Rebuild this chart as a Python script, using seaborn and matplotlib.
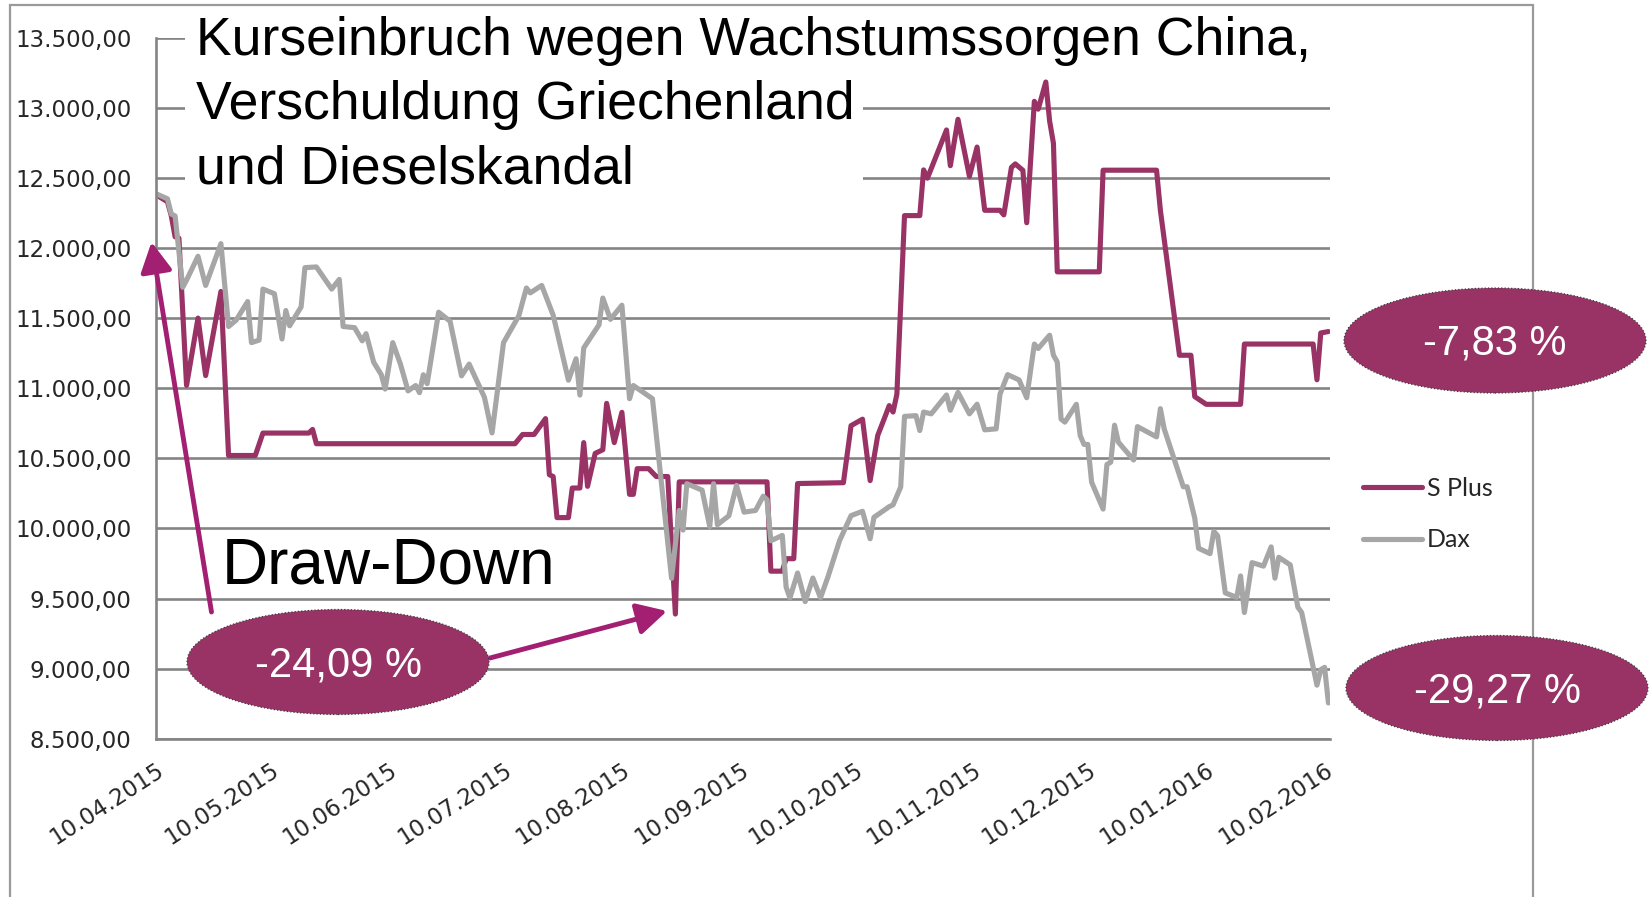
import matplotlib.pyplot as plt
import matplotlib.dates as mdates
from matplotlib.patches import Ellipse, Rectangle
from matplotlib.ticker import FuncFormatter, MultipleLocator
import pandas as pd
import seaborn as sns

# --------------------------------------------------
# data
splus_dates = [
    '2015-04-10', '2015-04-13', '2015-04-14', '2015-04-15', '2015-04-16',
    '2015-04-18', '2015-04-21', '2015-04-23', '2015-04-27', '2015-04-29',
    '2015-05-06', '2015-05-08', '2015-05-20', '2015-05-21', '2015-05-22',
    '2015-07-13', '2015-07-15', '2015-07-18', '2015-07-21', '2015-07-22',
    '2015-07-23', '2015-07-24', '2015-07-27', '2015-07-28', '2015-07-30',
    '2015-07-31', '2015-08-01', '2015-08-03', '2015-08-05', '2015-08-06',
    '2015-08-08', '2015-08-10', '2015-08-12', '2015-08-13', '2015-08-14',
    '2015-08-17', '2015-08-19', '2015-08-22', '2015-08-24', '2015-08-25',
    '2015-09-17', '2015-09-18', '2015-09-21', '2015-09-22', '2015-09-24',
    '2015-09-25', '2015-10-07', '2015-10-09', '2015-10-12', '2015-10-14',
    '2015-10-16', '2015-10-18', '2015-10-19', '2015-10-20', '2015-10-21',
    '2015-10-23', '2015-10-27', '2015-10-28', '2015-10-29', '2015-11-03',
    '2015-11-04', '2015-11-06', '2015-11-09', '2015-11-11', '2015-11-13',
    '2015-11-17', '2015-11-18', '2015-11-20', '2015-11-21', '2015-11-23',
    '2015-11-24', '2015-11-26', '2015-11-27', '2015-11-29', '2015-11-30',
    '2015-12-01', '2015-12-02', '2015-12-13', '2015-12-14', '2015-12-28',
    '2015-12-29', '2016-01-03', '2016-01-06', '2016-01-07', '2016-01-10',
    '2016-01-19', '2016-01-20', '2016-02-07', '2016-02-08', '2016-02-09',
    '2016-02-11']
splus_values = [
    12380, 12330, 12230, 12080, 12070,
    11020, 11500, 11090, 11690, 10520,
    10520, 10680, 10680, 10706, 10604,
    10604, 10670, 10670, 10783, 10383,
    10370, 10077, 10077, 10288, 10288,
    10612, 10300, 10535, 10561, 10892,
    10612, 10828, 10243, 10243, 10426,
    10426, 10370, 10370, 9389, 10332,
    10332, 9695, 9695, 9784, 9784,
    10320, 10326, 10733, 10779, 10341,
    10664, 10804, 10876, 10830, 10957,
    12231, 12231, 12557, 12498, 12842,
    12587, 12918, 12511, 12720, 12269,
    12269, 12236, 12575, 12600, 12554,
    12180, 13046, 12990, 13184, 12905,
    12746, 11830, 11830, 12555, 12555,
    12269, 11235, 11235, 10940, 10885,
    10885, 11315, 11315, 11060, 11394,
    11404]

dax_dates = [
    '2015-04-10', '2015-04-13', '2015-04-14', '2015-04-15', '2015-04-16',
    '2015-04-17', '2015-04-18', '2015-04-21', '2015-04-23', '2015-04-27',
    '2015-04-29', '2015-05-01', '2015-05-04', '2015-05-05', '2015-05-07',
    '2015-05-08', '2015-05-11', '2015-05-13', '2015-05-14', '2015-05-15',
    '2015-05-18', '2015-05-19', '2015-05-22', '2015-05-26', '2015-05-28',
    '2015-05-29', '2015-06-01', '2015-06-03', '2015-06-04', '2015-06-06',
    '2015-06-08', '2015-06-09', '2015-06-11', '2015-06-13', '2015-06-15',
    '2015-06-17', '2015-06-18', '2015-06-19', '2015-06-20', '2015-06-23',
    '2015-06-26', '2015-06-29', '2015-07-01', '2015-07-05', '2015-07-07',
    '2015-07-10', '2015-07-14', '2015-07-16', '2015-07-17', '2015-07-20',
    '2015-07-23', '2015-07-27', '2015-07-29', '2015-07-30', '2015-07-31',
    '2015-08-04', '2015-08-05', '2015-08-07', '2015-08-10', '2015-08-12',
    '2015-08-13', '2015-08-18', '2015-08-23', '2015-08-25', '2015-08-26',
    '2015-08-27', '2015-08-31', '2015-09-02', '2015-09-03', '2015-09-04',
    '2015-09-07', '2015-09-09', '2015-09-11', '2015-09-14', '2015-09-16',
    '2015-09-17', '2015-09-18', '2015-09-21', '2015-09-22', '2015-09-23',
    '2015-09-25', '2015-09-27', '2015-09-29', '2015-10-01', '2015-10-03',
    '2015-10-06', '2015-10-09', '2015-10-12', '2015-10-14', '2015-10-15',
    '2015-10-19', '2015-10-20', '2015-10-22', '2015-10-23', '2015-10-26',
    '2015-10-27', '2015-10-28', '2015-10-30', '2015-11-03', '2015-11-04',
    '2015-11-06', '2015-11-09', '2015-11-11', '2015-11-13', '2015-11-16',
    '2015-11-17', '2015-11-19', '2015-11-22', '2015-11-24', '2015-11-26',
    '2015-11-27', '2015-11-30', '2015-12-01', '2015-12-02', '2015-12-03',
    '2015-12-04', '2015-12-07', '2015-12-08', '2015-12-09', '2015-12-10',
    '2015-12-11', '2015-12-14', '2015-12-15', '2015-12-16', '2015-12-17',
    '2015-12-18', '2015-12-22', '2015-12-23', '2015-12-28', '2015-12-29',
    '2015-12-30', '2016-01-04', '2016-01-05', '2016-01-07', '2016-01-08',
    '2016-01-11', '2016-01-12', '2016-01-13', '2016-01-15', '2016-01-18',
    '2016-01-19', '2016-01-20', '2016-01-22', '2016-01-25', '2016-01-27',
    '2016-01-28', '2016-01-29', '2016-02-01', '2016-02-03', '2016-02-04',
    '2016-02-08', '2016-02-09', '2016-02-10', '2016-02-11']
dax_values = [
    12387, 12351, 12242, 12229, 11975,
    11720, 11771, 11941, 11733, 12031,
    11440, 11486, 11618, 11325, 11343,
    11707, 11674, 11351, 11554, 11445,
    11580, 11860, 11865, 11707, 11776,
    11440, 11432, 11338, 11389, 11185,
    11096, 10994, 11325, 11172, 10981,
    11019, 10968, 11096, 11032, 11542,
    11478, 11088, 11172, 10935, 10681,
    11325, 11516, 11715, 11680, 11733,
    11521, 11057, 11210, 10951, 11287,
    11452, 11643, 11491, 11592, 10925,
    11019, 10925, 9644, 10128, 9988,
    10319, 10273, 10013, 10319, 10026,
    10090, 10307, 10116, 10128, 10230,
    10205, 9912, 9950, 9581, 9504,
    9682, 9478, 9646, 9505, 9658,
    9913, 10091, 10122, 9926, 10079,
    10155, 10168, 10295, 10799, 10804,
    10698, 10830, 10817, 10952, 10843,
    10970, 10817, 10886, 10703, 10710,
    10957, 11097, 11059, 10932, 11315,
    11283, 11378, 11235, 11187, 10780,
    10758, 10885, 10663, 10599, 10599,
    10329, 10138, 10456, 10472, 10736,
    10615, 10488, 10726, 10653, 10854,
    10710, 10297, 10297, 10074, 9858,
    9820, 9979, 9947, 9540, 9508,
    9661, 9400, 9756, 9731, 9868,
    9645, 9794, 9740, 9438, 9400,
    8882, 8993, 9009, 8755]

tick_dates = ['2015-04-10', '2015-05-10', '2015-06-10', '2015-07-10',
              '2015-08-10', '2015-09-10', '2015-10-10', '2015-11-10',
              '2015-12-10', '2016-01-10', '2016-02-10']

series_names = ['S Plus', 'Dax']
title_lines = ['Kurseinbruch wegen Wachstumssorgen China,',
               'Verschuldung Griechenland',
               'und Dieselskandal']
drawdown_label = 'Draw-Down'
badge_labels = ['-24,09 %', '-7,83 %', '-29,27 %']

# --------------------------------------------------
W, H = 1651, 897
PURPLE = '#993366'
ARROW = '#A21F72'
GREY = '#A6A6A6'
AXIS = '#848484'


def fx(x):
    return x / W


def fy(y):
    return 1 - y / H


def de_num(v, pos=None):
    s = '{:,.2f}'.format(v)
    return s.replace(',', 'X').replace('.', ',').replace('X', '.')


sns.set_style('white')
plt.rcParams['font.family'] = ['Liberation Sans', 'DejaVu Sans']

splus = pd.DataFrame({'date': pd.to_datetime(splus_dates),
                      'value': splus_values})
dax = pd.DataFrame({'date': pd.to_datetime(dax_dates), 'value': dax_values})

fig = plt.figure(figsize=(W / 100, H / 100), dpi=100)
ax = fig.add_axes([fx(156), fy(738.7), fx(1330) - fx(156),
                   fy(37.7) - fy(738.7)])

sns.lineplot(data=splus, x='date', y='value', ax=ax, color=PURPLE, lw=3.7,
             label=series_names[0])
sns.lineplot(data=dax, x='date', y='value', ax=ax, color=GREY, lw=3.7,
             label=series_names[1])

ax.set_ylim(8500, 13500)
ax.set_xlim(pd.Timestamp('2016-02-11 10:00') - pd.Timedelta(days=307.4),
            pd.Timestamp('2016-02-11 10:00'))
ax.yaxis.set_major_locator(MultipleLocator(500))
ax.yaxis.set_major_formatter(FuncFormatter(de_num))
ax.set_xticks(pd.to_datetime(tick_dates))
ax.xaxis.set_major_formatter(mdates.DateFormatter('%d.%m.%Y'))
ax.set_xlabel('')
ax.set_ylabel('')

ax.grid(axis='y', color=AXIS, lw=1.9)
ax.set_axisbelow(True)
for side in ['top', 'right']:
    ax.spines[side].set_visible(False)
for side in ['left', 'bottom']:
    ax.spines[side].set_color(AXIS)
    ax.spines[side].set_linewidth(1.9)

ax.tick_params(axis='y', length=6.5, width=1.9, color=AXIS, pad=11,
               labelsize=16.5, labelcolor='#262626')
ax.tick_params(axis='x', length=6.5, width=1.9, color=AXIS, pad=8,
               labelsize=16.5, labelcolor='#262626')
for lab in ax.get_yticklabels() + ax.get_xticklabels():
    lab.set_family('DejaVu Sans')
for lab in ax.get_xticklabels():
    lab.set_rotation(33)
    lab.set_ha('right')
    lab.set_va('top')
    lab.set_rotation_mode('anchor')

handles, labels = ax.get_legend_handles_labels()
ax.legend(handles, labels, loc='center left',
          bbox_to_anchor=(fx(1363), fy(514)), bbox_transform=fig.transFigure,
          frameon=False, prop={'family': 'Lato', 'size': 18},
          handlelength=2.35, handletextpad=0.2, labelspacing=1.15,
          borderpad=0, borderaxespad=0)

# outer frame of the slide chart
fig.add_artist(Rectangle((fx(10), -0.1), fx(1533) - fx(10), fy(5) + 0.1,
                         transform=fig.transFigure, fill=False,
                         edgecolor='#9A9A9A', lw=1.6, zorder=1))

# white box behind the headline
fig.add_artist(Rectangle((fx(185), fy(62)), fx(1336) - fx(185),
                         fy(14) - fy(62), transform=fig.transFigure,
                         color='white', lw=0, zorder=1))
fig.add_artist(Rectangle((fx(185), fy(189)), fx(863) - fx(185),
                         fy(60) - fy(189), transform=fig.transFigure,
                         color='white', lw=0, zorder=1))
for line, base in zip(title_lines, [55, 119, 183]):
    fig.text(fx(196), fy(base), line, fontsize=38.5, va='baseline',
             color='black', zorder=2)

fig.text(fx(222), fy(583), drawdown_label, fontsize=46, va='baseline',
         color='black', zorder=2)

# arrows to the draw-down
arrow_style = dict(arrowstyle='-|>,head_length=0.6,head_width=0.32',
                   lw=3.5, color=ARROW, shrinkA=0, shrinkB=0,
                   mutation_scale=30)
ax.annotate('', xy=(151.5, H - 242), xycoords='figure pixels',
            xytext=(211.5, H - 612), textcoords='figure pixels',
            arrowprops=arrow_style, annotation_clip=False, zorder=5)
ax.annotate('', xy=(667, H - 611), xycoords='figure pixels',
            xytext=(490, H - 658), textcoords='figure pixels',
            arrowprops=arrow_style, annotation_clip=False, zorder=5)

# percentage badges
badges = [(338, 662, 676.5), (1495, 340.5, 354.5), (1497, 688, 702.5)]
for (cx, cy, base), text in zip(badges, badge_labels):
    fig.add_artist(Ellipse((fx(cx), fy(cy)), 302 / W, 105 / H,
                           transform=fig.transFigure, facecolor=PURPLE,
                           edgecolor='#3a3a3a', lw=0.9, ls=':', zorder=3))
    fig.text(fx(cx), fy(base), text, fontsize=30, color='white',
             ha='center', va='baseline', zorder=4)

fig.savefig('out.png', dpi=100, facecolor='white')
